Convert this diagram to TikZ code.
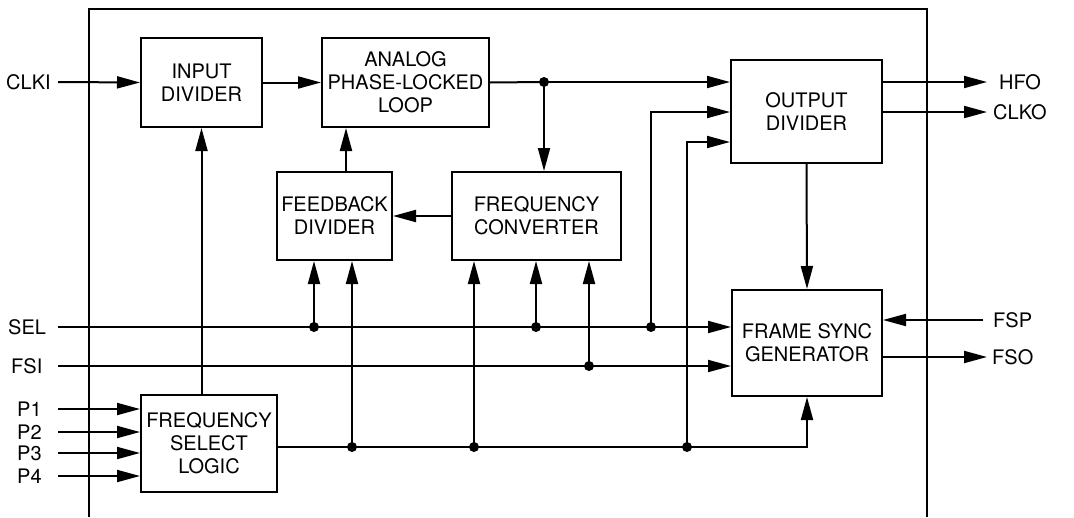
\documentclass[tikz,border=0pt]{standalone}
\usepackage{fontspec}
\setmainfont{TeX Gyre Heros}
\usetikzlibrary{arrows.meta}
\begin{document}
\begin{tikzpicture}[x=1pt,y=-1pt,
  every node/.style={font=\fontsize{20}{23}\selectfont},
  blk/.style={draw,line width=2pt,inner sep=0pt,align=center},
  wire/.style={line width=2pt},
  arr/.style={line width=2pt,-{Triangle[length=23pt,width=12pt]}},
  lbl/.style={anchor=west,inner sep=0pt},
  jdot/.style={circle,fill,inner sep=0pt,minimum size=10pt}]
\useasboundingbox (0,0) rectangle (1074,517);
% frame
\draw[wire] (89,517) -- (89,9) -- (927,9) -- (927,517);
% blocks
\node[blk,minimum width=121pt,minimum height=89pt] (ind) at (201.5,82.5) {INPUT\\DIVIDER};
\node[blk,minimum width=167pt,minimum height=89pt] (pll) at (405.5,82.5) {ANALOG\\PHASE-LOCKED\\LOOP};
\node[blk,minimum width=115pt,minimum height=88pt] (fbd) at (334.5,216) {FEEDBACK\\DIVIDER};
\node[blk,minimum width=169pt,minimum height=88pt] (fc) at (536.5,216) {FREQUENCY\\CONVERTER};
\node[blk,minimum width=151pt,minimum height=103pt] (od) at (806.5,111.5) {OUTPUT\\DIVIDER};
\node[blk,minimum width=150pt,minimum height=106pt] (fsg) at (807,343) {FRAME SYNC\\GENERATOR};
\node[blk,minimum width=136pt,minimum height=97pt] (fsl) at (209,443.5) {FREQUENCY\\SELECT\\LOGIC};
% labels
\node[lbl] (lclki) at (6,82) {CLKI};
\node[lbl] (lsel) at (8,327) {SEL};
\node[lbl] (lfsi) at (11,366) {FSI};
\node[lbl] (lp1) at (17,409) {P1};
\node[lbl] (lp2) at (17,432) {P2};
\node[lbl] (lp3) at (17,453) {P3};
\node[lbl] (lp4) at (17,476) {P4};
\node[lbl] (lhfo) at (999,82) {HFO};
\node[lbl] (lclko) at (993,112) {CLKO};
\node[lbl] (lfsp) at (993,320) {FSP};
\node[lbl] (lfso) at (992,357) {FSO};
% free ends
\coordinate (iclki) at (58,82);
\coordinate (isel) at (58,327);
\coordinate (ifsi) at (58,366);
\coordinate (ip1) at (58,409);
\coordinate (ip2) at (58,432);
\coordinate (ip3) at (58,453);
\coordinate (ip4) at (58,476);
\coordinate (ohfo) at (987,82);
\coordinate (oclko) at (987,112);
\coordinate (ifsp) at (983,320);
\coordinate (ofso) at (987,357);
% junctions
\node[jdot] (jpll) at (544,82) {};
\node[jdot] (js1) at (314,327) {};
\node[jdot] (js2) at (536,327) {};
\node[jdot] (js3) at (651,327) {};
\node[jdot] (jf1) at (589,366) {};
\node[jdot] (jl1) at (352,447) {};
\node[jdot] (jl2) at (474,447) {};
\node[jdot] (jl3) at (687,447) {};
\coordinate (cfb) at (346,0);
\coordinate (cod2) at (0,142);
% connectors
\draw[arr] (iclki) -- (ind.west);
\draw[arr] (ind.east) -- (pll.west);
\draw[wire] (pll.east) -- (jpll.center);
\draw[arr] (jpll.center) -- (od.west |- jpll);
\draw[arr] (jpll.center) -- (jpll |- fc.north);
\draw[arr] (fc.west) -- (fbd.east);
\draw[arr] (fbd.north -| cfb) -- (pll.south -| cfb);
\draw[arr] (od.east |- ohfo) -- (ohfo);
\draw[arr] (od.east |- oclko) -- (oclko);
\draw[arr] (od.south) -- (fsg.north);
\draw[arr] (ifsp) -- (fsg.east |- ifsp);
\draw[arr] (fsg.east |- ofso) -- (ofso);
% SEL
\draw[arr] (isel) -- (fsg.west |- isel);
\draw[arr] (js1.center) -- (js1 |- fbd.south);
\draw[arr] (js2.center) -- (js2 |- fc.south);
\draw[arr] (js3.center) |- (od.west |- oclko);
% FSI
\draw[arr] (ifsi) -- (fsg.west |- ifsi);
\draw[arr] (jf1.center) -- (jf1 |- fc.south);
% P inputs
\draw[arr] (ip1) -- (fsl.west |- ip1);
\draw[arr] (ip2) -- (fsl.west |- ip2);
\draw[arr] (ip3) -- (fsl.west |- ip3);
\draw[arr] (ip4) -- (fsl.west |- ip4);
% FSL outputs
\draw[arr] (fsl.north -| ind.south) -- (ind.south);
\draw[arr] (fsl.east |- jl1) -| (fsg.south);
\draw[arr] (jl1.center) -- (jl1 |- fbd.south);
\draw[arr] (jl2.center) -- (jl2 |- fc.south);
\draw[arr] (jl3.center) |- (od.west |- cod2);
\end{tikzpicture}
\end{document}
